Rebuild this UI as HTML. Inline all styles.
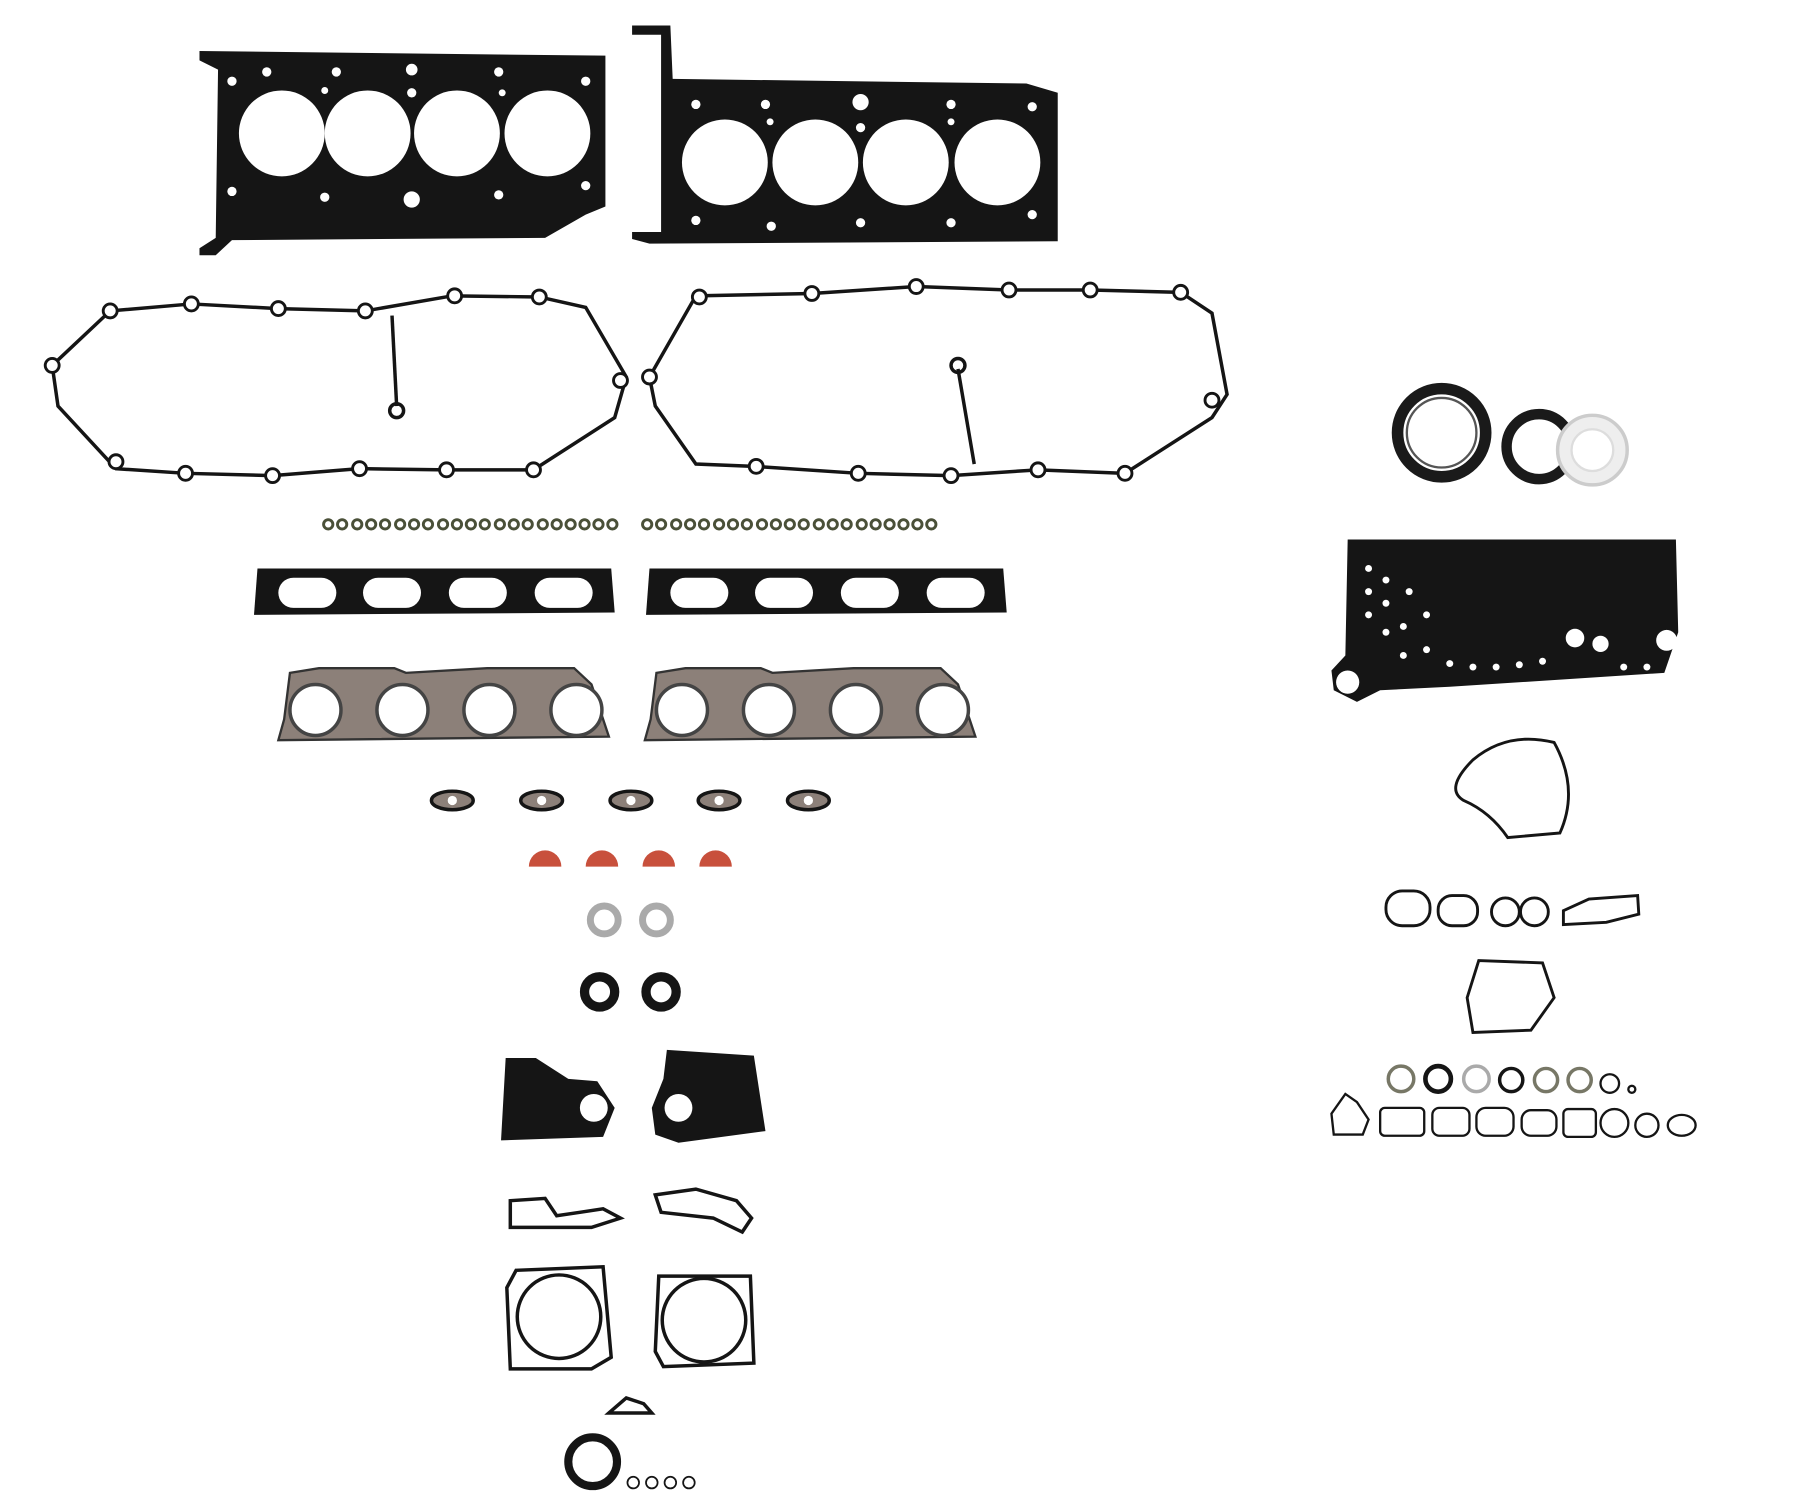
<!DOCTYPE html>
<html><head><meta charset="utf-8"><style>html,body{margin:0;padding:0;background:#fff}svg{display:block}</style></head>
<body>
<svg width="1800" height="1500" viewBox="0 0 1552 1293" preserveAspectRatio="none" xmlns="http://www.w3.org/2000/svg">
<rect width="1552" height="1293" fill="#fff"/>
<!-- head gaskets -->
<g>
<path d="M172,44 L522,48 L522,178 L505,185 L470,205 L200,207 L186,220 L172,220 L172,214 L186,205 L188,60 L172,52 Z" fill="#151515"/>
<g fill="#fff"><circle cx="243" cy="115" r="37"/><circle cx="317" cy="115" r="37"/><circle cx="394" cy="115" r="37"/><circle cx="472" cy="115" r="37"/>
<circle cx="200" cy="70" r="4"/><circle cx="230" cy="62" r="4"/><circle cx="290" cy="62" r="4"/><circle cx="355" cy="60" r="5"/><circle cx="430" cy="62" r="4"/><circle cx="505" cy="70" r="4"/><circle cx="200" cy="165" r="4"/><circle cx="280" cy="170" r="4"/><circle cx="355" cy="172" r="7"/><circle cx="430" cy="168" r="4"/><circle cx="505" cy="160" r="4"/><circle cx="280" cy="78" r="3"/><circle cx="355" cy="80" r="4"/><circle cx="433" cy="80" r="3"/></g>
<path d="M545,22 L578,22 L580,68 L885,72 L912,80 L912,208 L560,210 L545,206 L545,200 L570,200 L570,30 L545,30 Z" fill="#151515"/>
<g fill="#fff"><circle cx="625" cy="140" r="37"/><circle cx="703" cy="140" r="37"/><circle cx="781" cy="140" r="37"/><circle cx="860" cy="140" r="37"/>
<circle cx="742" cy="88" r="7"/><circle cx="600" cy="90" r="4"/><circle cx="660" cy="90" r="4"/><circle cx="820" cy="90" r="4"/><circle cx="890" cy="92" r="4"/><circle cx="600" cy="190" r="4"/><circle cx="665" cy="195" r="4"/><circle cx="742" cy="192" r="4"/><circle cx="820" cy="192" r="4"/><circle cx="890" cy="185" r="4"/><circle cx="742" cy="110" r="4"/><circle cx="664" cy="105" r="3"/><circle cx="820" cy="105" r="3"/></g>
</g>
<!-- valve cover gaskets -->
<g fill="none" stroke="#151515" stroke-width="3">
<path d="M45,315 L95,268 L165,262 L240,266 L315,268 L390,255 L465,256 L505,265 L540,325 L530,360 L460,405 L385,405 L310,404 L235,410 L160,408 L100,404 L50,350 Z"/>
<path d="M338,272 L342,350"/><circle cx="342" cy="354" r="6"/>
<path d="M560,325 L600,255 L700,253 L790,247 L870,250 L940,250 L1018,252 L1045,270 L1058,340 L1045,360 L970,408 L895,405 L820,410 L740,408 L650,402 L600,400 L565,350 Z"/>
<path d="M826,318 L840,400"/><circle cx="826" cy="315" r="6"/>
</g>
<g fill="#fff" stroke="#151515" stroke-width="2.5">
<circle cx="95" cy="268" r="6"/><circle cx="165" cy="262" r="6"/><circle cx="240" cy="266" r="6"/><circle cx="315" cy="268" r="6"/><circle cx="392" cy="255" r="6"/><circle cx="465" cy="256" r="6"/><circle cx="535" cy="328" r="6"/><circle cx="460" cy="405" r="6"/><circle cx="385" cy="405" r="6"/><circle cx="310" cy="404" r="6"/><circle cx="235" cy="410" r="6"/><circle cx="160" cy="408" r="6"/><circle cx="100" cy="398" r="6"/><circle cx="45" cy="315" r="6"/>
<circle cx="603" cy="256" r="6"/><circle cx="700" cy="253" r="6"/><circle cx="790" cy="247" r="6"/><circle cx="870" cy="250" r="6"/><circle cx="940" cy="250" r="6"/><circle cx="1018" cy="252" r="6"/><circle cx="1045" cy="345" r="6"/><circle cx="970" cy="408" r="6"/><circle cx="895" cy="405" r="6"/><circle cx="820" cy="410" r="6"/><circle cx="740" cy="408" r="6"/><circle cx="652" cy="402" r="6"/><circle cx="560" cy="325" r="6"/>
</g>
<!-- small o-rings row -->
<g id="row" fill="none" stroke="#4a5038" stroke-width="2.5">
<circle cx="283" cy="452" r="4"/><circle cx="295" cy="452" r="4"/><circle cx="308" cy="452" r="4"/><circle cx="320" cy="452" r="4"/><circle cx="332" cy="452" r="4"/><circle cx="345" cy="452" r="4"/><circle cx="357" cy="452" r="4"/><circle cx="369" cy="452" r="4"/><circle cx="382" cy="452" r="4"/><circle cx="394" cy="452" r="4"/><circle cx="406" cy="452" r="4"/><circle cx="418" cy="452" r="4"/><circle cx="431" cy="452" r="4"/><circle cx="443" cy="452" r="4"/><circle cx="455" cy="452" r="4"/><circle cx="468" cy="452" r="4"/><circle cx="480" cy="452" r="4"/><circle cx="492" cy="452" r="4"/><circle cx="504" cy="452" r="4"/><circle cx="516" cy="452" r="4"/><circle cx="528" cy="452" r="4"/>
</g>
<use href="#row" x="275"/>
<!-- intake gaskets -->
<g id="intake"><path d="M222,490 L527,490 L530,528 L219,530 Z" fill="#151515"/>
<g fill="#fff"><rect x="240" y="498" width="50" height="26" rx="13"/><rect x="313" y="498" width="50" height="26" rx="13"/><rect x="387" y="498" width="50" height="26" rx="13"/><rect x="461" y="498" width="50" height="26" rx="13"/></g></g>
<use href="#intake" x="338"/>
<!-- exhaust gaskets -->
<g id="exh"><path d="M250,580 L275,576 L340,576 L350,580 L420,576 L495,576 L510,590 L525,635 L240,638 L245,620 Z" fill="#8c8079" stroke="#333" stroke-width="2"/>
<g fill="#fff" stroke="#444" stroke-width="3"><circle cx="272" cy="612" r="22"/><circle cx="347" cy="612" r="22"/><circle cx="422" cy="612" r="22"/><circle cx="497" cy="612" r="22"/></g></g>
<use href="#exh" x="316"/>
<!-- small gaskets -->
<g fill="#8c8079" stroke="#151515" stroke-width="3">
<ellipse cx="390" cy="690" rx="18" ry="8"/><ellipse cx="467" cy="690" rx="18" ry="8"/><ellipse cx="544" cy="690" rx="18" ry="8"/><ellipse cx="620" cy="690" rx="18" ry="8"/><ellipse cx="697" cy="690" rx="18" ry="8"/></g>
<g fill="#fff"><circle cx="390" cy="690" r="4"/><circle cx="467" cy="690" r="4"/><circle cx="544" cy="690" r="4"/><circle cx="620" cy="690" r="4"/><circle cx="697" cy="690" r="4"/></g>
<!-- red half seals -->
<g fill="#c8503c"><path d="M456,747 A14,14 0 0 1 484,747 Z"/><path d="M505,747 A14,14 0 0 1 533,747 Z"/><path d="M554,747 A14,14 0 0 1 582,747 Z"/><path d="M603,747 A14,14 0 0 1 631,747 Z"/></g>
<g fill="none"><circle cx="521" cy="793" r="12" stroke="#aaa" stroke-width="6"/><circle cx="566" cy="793" r="12" stroke="#aaa" stroke-width="6"/>
<circle cx="517" cy="855" r="13" stroke="#151515" stroke-width="8"/><circle cx="570" cy="855" r="13" stroke="#151515" stroke-width="8"/></g>
<!-- plates -->
<path d="M436,912 L462,912 L490,930 L515,932 L530,955 L520,980 L432,983 Z" fill="#151515"/>
<circle cx="512" cy="955" r="12" fill="#fff"/>
<path d="M575,905 L650,910 L660,975 L585,985 L565,978 L562,955 L572,930 Z" fill="#151515"/>
<circle cx="585" cy="955" r="12" fill="#fff"/>
<!-- small odd gaskets -->
<g fill="none" stroke="#151515" stroke-width="3">
<path d="M440,1035 L470,1033 L480,1048 L500,1045 L520,1042 L535,1050 L510,1058 L470,1058 L440,1058 Z"/>
<path d="M565,1030 L600,1025 L635,1035 L648,1050 L640,1062 L615,1050 L570,1045 Z"/>
<path d="M445,1095 L520,1092 L527,1170 L510,1180 L440,1180 L437,1110 Z"/>
<circle cx="482" cy="1135" r="36"/>
<path d="M568,1100 L647,1100 L650,1175 L572,1178 L565,1165 Z"/>
<circle cx="607" cy="1138" r="36"/>
<path d="M525,1218 L540,1205 L555,1210 L562,1218 Z"/>
</g>
<circle cx="511" cy="1260" r="21" fill="none" stroke="#151515" stroke-width="7"/>
<g fill="none" stroke="#151515" stroke-width="1.5"><circle cx="546" cy="1278" r="5"/><circle cx="562" cy="1278" r="5"/><circle cx="578" cy="1278" r="5"/><circle cx="594" cy="1278" r="5"/></g>
<!-- right side -->
<circle cx="1243" cy="373" r="38" fill="none" stroke="#1a1a1a" stroke-width="10"/>
<circle cx="1243" cy="373" r="30" fill="none" stroke="#555" stroke-width="2"/>
<circle cx="1327" cy="385" r="28" fill="none" stroke="#1a1a1a" stroke-width="9"/>
<circle cx="1373" cy="388" r="30" fill="#eee" stroke="#ccc" stroke-width="3"/>
<circle cx="1373" cy="388" r="18" fill="#fff" stroke="#ddd" stroke-width="2"/>
<path d="M1162,465 L1445,465 L1447,545 L1435,580 L1250,592 L1190,595 L1170,605 L1150,595 L1148,578 L1160,565 Z" fill="#151515"/>
<g fill="#fff"><circle cx="1162" cy="588" r="10"/><circle cx="1437" cy="552" r="9"/><circle cx="1358" cy="550" r="8"/><circle cx="1380" cy="555" r="7"/>
<circle cx="1180" cy="490" r="3"/><circle cx="1180" cy="510" r="3"/><circle cx="1180" cy="530" r="3"/><circle cx="1195" cy="500" r="3"/><circle cx="1195" cy="520" r="3"/><circle cx="1195" cy="545" r="3"/><circle cx="1210" cy="540" r="3"/><circle cx="1210" cy="565" r="3"/><circle cx="1230" cy="560" r="3"/><circle cx="1250" cy="572" r="3"/><circle cx="1270" cy="575" r="3"/><circle cx="1290" cy="575" r="3"/><circle cx="1310" cy="573" r="3"/><circle cx="1330" cy="570" r="3"/><circle cx="1400" cy="575" r="3"/><circle cx="1420" cy="575" r="3"/><circle cx="1215" cy="510" r="3"/><circle cx="1230" cy="530" r="3"/></g>
<g fill="none" stroke="#151515" stroke-width="2.5">
<path d="M1270,655 Q1300,630 1340,640 Q1362,680 1345,718 L1300,722 Q1285,700 1262,690 Q1245,680 1270,655 Z"/>
<rect x="1195" y="768" width="38" height="30" rx="14"/><rect x="1240" y="772" width="34" height="26" rx="12"/><circle cx="1298" cy="786" r="12"/><circle cx="1323" cy="786" r="12"/>
<path d="M1348,785 L1370,775 L1412,772 L1413,788 L1385,795 L1348,797 Z"/>
<path d="M1275,828 L1330,830 L1340,860 L1320,888 L1270,890 L1265,860 Z"/>
</g>
<g fill="none" stroke-width="3">
<circle cx="1208" cy="930" r="11" stroke="#776"/><circle cx="1240" cy="930" r="11" stroke="#151515" stroke-width="4"/><circle cx="1273" cy="930" r="11" stroke="#aaa"/><circle cx="1303" cy="931" r="10" stroke="#151515"/><circle cx="1333" cy="931" r="10" stroke="#776"/><circle cx="1362" cy="931" r="10" stroke="#776"/><circle cx="1388" cy="934" r="8" stroke="#151515" stroke-width="2"/><circle cx="1407" cy="939" r="3" stroke="#151515" stroke-width="2"/>
</g>
<g fill="none" stroke="#151515" stroke-width="2">
<path d="M1148,960 L1160,943 L1170,950 L1180,965 L1175,978 L1150,978 Z"/>
<rect x="1190" y="955" width="38" height="24" rx="4"/><rect x="1235" y="955" width="32" height="24" rx="6"/><rect x="1273" y="955" width="32" height="24" rx="8"/><rect x="1312" y="957" width="30" height="22" rx="8"/><rect x="1348" y="956" width="28" height="24" rx="4"/><circle cx="1392" cy="968" r="12"/><circle cx="1420" cy="970" r="10"/><ellipse cx="1450" cy="970" rx="12" ry="9"/>
</g>
</svg>
</body></html>
